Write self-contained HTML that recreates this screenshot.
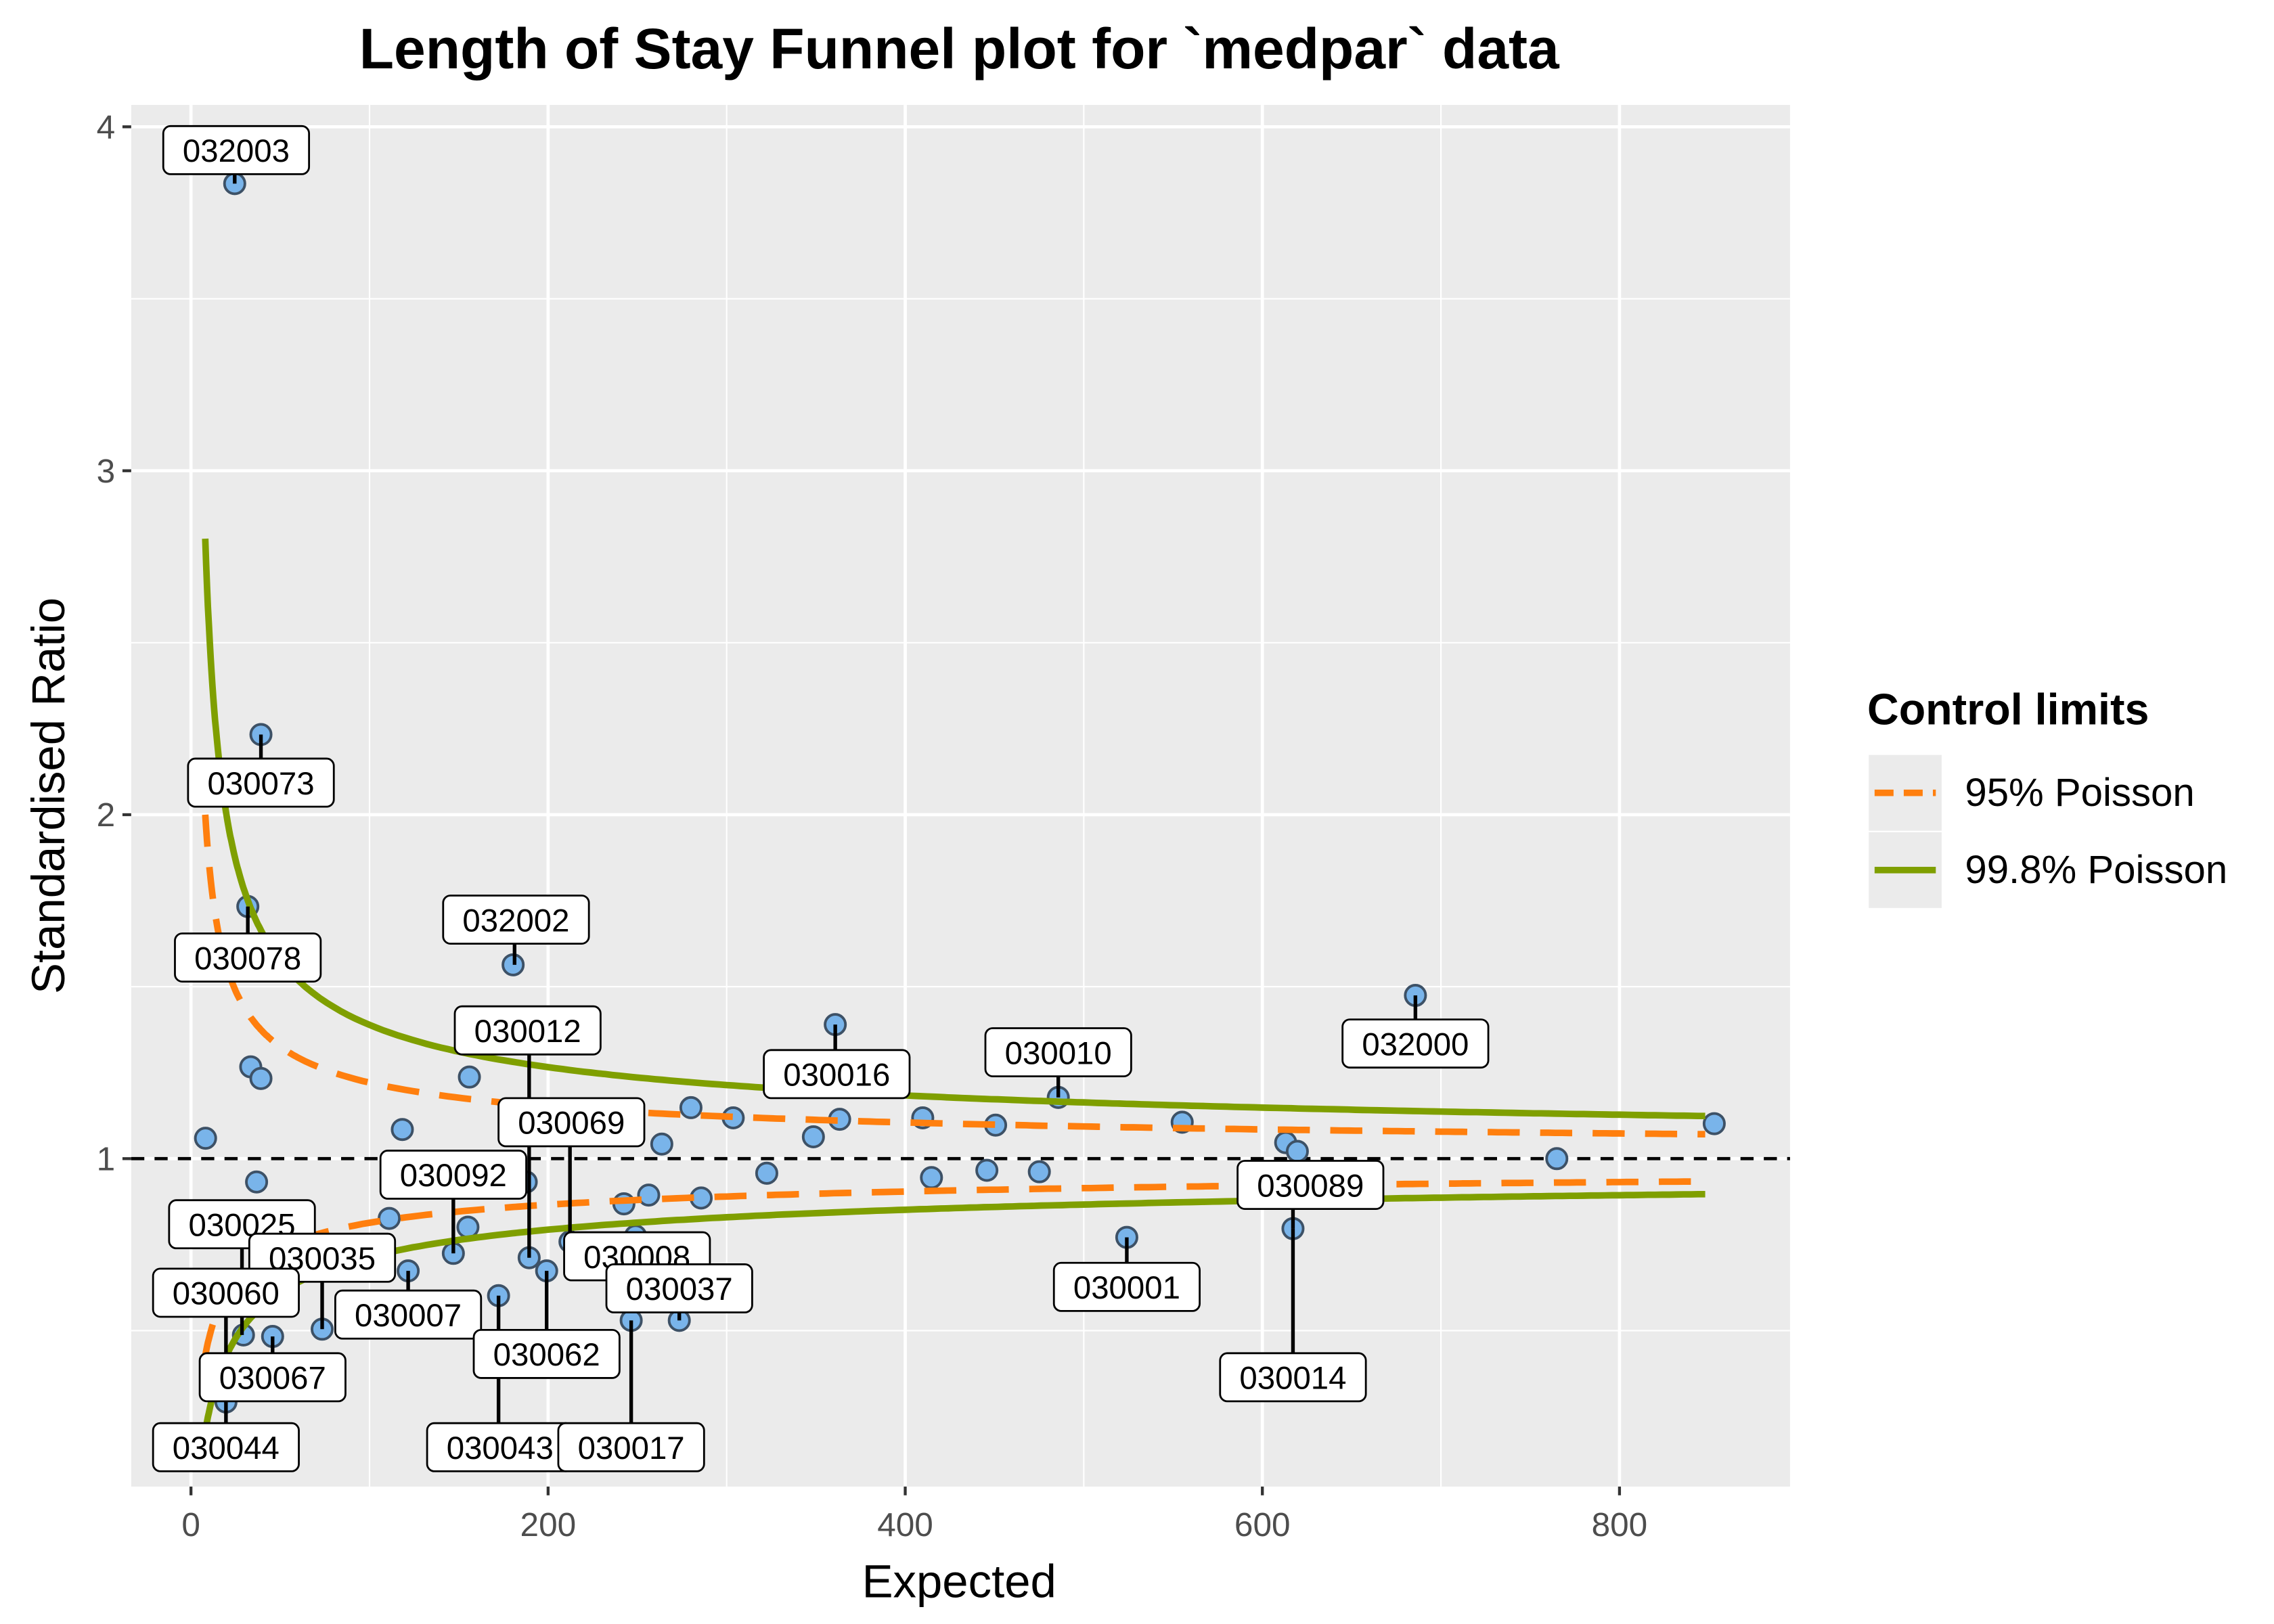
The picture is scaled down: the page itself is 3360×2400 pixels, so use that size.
<!DOCTYPE html>
<html><head><meta charset="utf-8"><style>
html,body{margin:0;padding:0;background:#fff;}
svg{display:block;}
text{font-family:"Liberation Sans",Arial,sans-serif;}
</style></head><body>
<svg id="s" xmlns="http://www.w3.org/2000/svg" width="3360" height="2400" viewBox="0 0 1560 1114.3">
<rect x="0" y="0" width="1560" height="1115" fill="#fff"/>
<defs><clipPath id="cp"><rect x="90" y="72" width="1138" height="948"/></clipPath></defs>
<rect x="90" y="72" width="1138" height="948" fill="#ebebeb"/>
<g id="grid"></g>
<line x1="90" x2="1228" y1="795" y2="795" stroke="#000" stroke-width="2.2" stroke-dasharray="9,7"/>
<g id="pts"></g>
<g clip-path="url(#cp)" id="curves"></g>
<g id="labels"></g>
<text x="658" y="47" font-size="39" font-weight="bold" text-anchor="middle">Length of Stay Funnel plot for `medpar` data</text>
<text x="658" y="1096" font-size="32" text-anchor="middle">Expected</text>
<text transform="translate(44,546) rotate(-90)" font-size="32" text-anchor="middle">Standardised Ratio</text>
<g id="ticks" font-size="23" fill="#4d4d4d"></g>
<text x="1281" y="497" font-size="30" font-weight="bold">Control limits</text>
<rect x="1282" y="518" width="50" height="52" fill="#ebebeb"/>
<rect x="1282" y="571" width="50" height="52" fill="#ebebeb"/>
<line x1="1286" x2="1328" y1="544" y2="544" stroke="#ff7f0e" stroke-width="4.5" stroke-dasharray="13,7"/>
<line x1="1286" x2="1328" y1="597" y2="597" stroke="#7f9f00" stroke-width="4.5"/>
<text x="1348" y="553" font-size="27">95% Poisson</text>
<text x="1348" y="606" font-size="27">99.8% Poisson</text>
</svg>
<script>
var NS="http://www.w3.org/2000/svg";
function el(p,t,a,txt){var e=document.createElementNS(NS,t);for(var k in a)e.setAttribute(k,a[k]);if(txt!=null)e.textContent=txt;document.getElementById(p).appendChild(e);return e;}
function X(E){return 131+1.225*E;} function Y(v){return 1031-236*v;}
[100,300,500,700].forEach(function(v){el("grid","line",{x1:X(v),x2:X(v),y1:72,y2:1020,stroke:"#fff","stroke-width":1});});
[0.5,1.5,2.5,3.5].forEach(function(v){el("grid","line",{x1:90,x2:1228,y1:Y(v),y2:Y(v),stroke:"#fff","stroke-width":1});});
[0,200,400,600,800].forEach(function(v){el("grid","line",{x1:X(v),x2:X(v),y1:72,y2:1020,stroke:"#fff","stroke-width":2.2});
 el("ticks","line",{x1:X(v),x2:X(v),y1:1020,y2:1026,stroke:"#333","stroke-width":2});
 el("ticks","text",{x:X(v),y:1054,"text-anchor":"middle"},String(v));});
[1,2,3,4].forEach(function(v){el("grid","line",{x1:90,x2:1228,y1:Y(v),y2:Y(v),stroke:"#fff","stroke-width":2.2});
 el("ticks","line",{x1:84,x2:90,y1:Y(v),y2:Y(v),stroke:"#333","stroke-width":2});
 el("ticks","text",{x:79,y:Y(v)+8,"text-anchor":"end"},String(v));});
var P=[[161,126],[179,504],[170,622],[172,732],[179,740],[141,781],[176,811],[276,775],[267,836],[280,872],[322,739],[321,842],[311,860],[352,662],[361,811],[363,863],[375,872],[342,889],[391,852],[428,826],[445,820],[454,785],[474,760],[481,822],[503,767],[526,805],[558,780],[573,703],[576,768],[633,767],[639,808],[677,803],[683,772],[713,804],[726,753],[773,849],[811,770],[882,784],[890,790],[887,843],[971,683],[1068,795],[1176,771],[167,916],[187,917],[221,912],[433,906],[466,906],[436,848],[155,962],[430,858],[442,866]];
P.forEach(function(p){el("pts","circle",{cx:p[0],cy:p[1],r:7,fill:"#79b4ea",stroke:"#3d5166","stroke-width":1.8});});
function path(z,up,c){var d="";for(var E=8;E<=850;E+=(E<60?0.5:4)){var v=up?Math.pow(Math.sqrt(E+1)+z/2+c,2)/E:Math.pow(Math.max(Math.sqrt(E)-z/2,0),2)/E;d+=(d?"L":"M")+X(E).toFixed(1)+","+Y(v).toFixed(1);}return d;}
el("curves","path",{d:path(3.09,true,0.19),fill:"none",stroke:"#7f9f00","stroke-width":4.5});
el("curves","path",{d:path(3.09,false,0),fill:"none",stroke:"#7f9f00","stroke-width":4.5});
el("curves","path",{d:path(1.96,true,0.02),fill:"none",stroke:"#ff7f0e","stroke-width":4.5,"stroke-dasharray":"22,14"});
el("curves","path",{d:path(1.96,false,0),fill:"none",stroke:"#ff7f0e","stroke-width":4.5,"stroke-dasharray":"22,14"});
var L=[["032003",162,103,161,126],["030073",179,537,179,504],["030078",170,657,170,622],["032002",354,631,353,662],["030012",362,707,363,863],["030069",392,770,391,852],["030092",311,806,311,860],["030008",437,862,436,848],["030025",166,840,166,916],["030035",221,863,221,912],["030060",155,887,155,962],["030067",187,945,187,917],["030044",155,993,155,962],["030007",280,902,280,872],["030062",375,929,375,872],["030043",343,993,342,889],["030017",433,993,433,906],["030037",466,884,466,906],["030016",574,737,573,703],["030010",726,722,726,753],["032000",971,716,971,683],["030001",773,883,773,849],["030089",899,813,887,843],["030014",887,945,887,843]];
var W=100,H=33;
L.forEach(function(l){var ty=l[2]>l[4]?l[2]-H/2:l[2]+H/2;
 el("labels","line",{x1:l[3],y1:l[4],x2:l[3],y2:ty,stroke:"#000","stroke-width":2.5});});
L.forEach(function(l){el("labels","rect",{x:l[1]-W/2,y:l[2]-H/2,width:W,height:H,rx:5,fill:"#fff",stroke:"#000","stroke-width":1.3});
 el("labels","text",{x:l[1],y:l[2]+8,"text-anchor":"middle","font-size":22},l[0]);});
</script>
</body></html>
